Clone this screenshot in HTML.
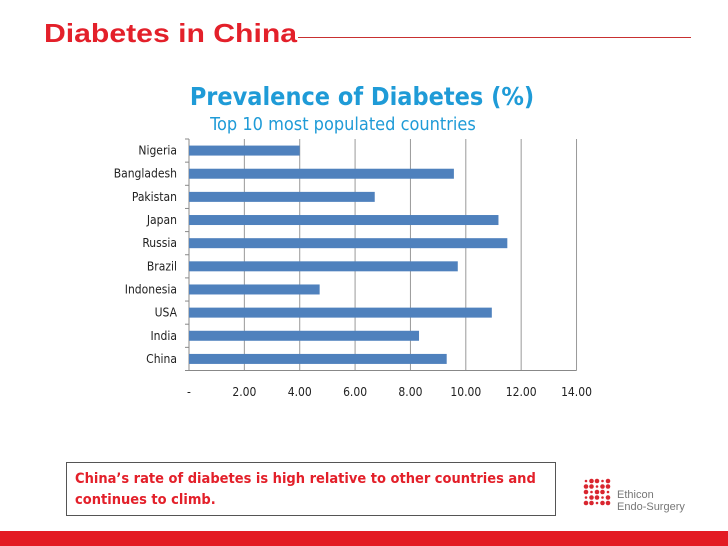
<!DOCTYPE html>
<html><head><meta charset="utf-8"><style>
body{margin:0;width:728px;height:546px;background:#fff;position:relative;overflow:hidden;font-family:"Liberation Sans",sans-serif}
.abs{position:absolute}
</style></head><body>
<div class="abs" style="left:44px;top:18px;font-size:26px;font-weight:bold;color:#e3202a;transform:scaleX(1.16);transform-origin:left top;white-space:nowrap">Diabetes in China</div>
<div class="abs" style="left:298px;top:37px;width:393px;height:1px;background:#c83030"></div>
<svg class="abs" style="left:0;top:0" width="728" height="546">
<text x="362" y="105" text-anchor="middle" font-size="25" font-weight="bold" fill="#1f9bd7" font-family="DejaVu Sans Condensed, DejaVu Sans, sans-serif">Prevalence of Diabetes (%)</text>
<text x="343" y="130" text-anchor="middle" font-size="18" fill="#1f9bd7" font-family="DejaVu Sans Condensed, DejaVu Sans, sans-serif">Top 10 most populated countries</text>
<g id="g"></g>
</svg>
<div class="abs" style="left:66px;top:462px;width:490px;height:54px;border:1px solid #555;box-sizing:border-box;padding:6px 8px;color:#e3202a;font-weight:bold;font-size:14.5px;line-height:21px;font-family:'DejaVu Sans Condensed','Liberation Sans',sans-serif">China’s rate of diabetes is high relative to other countries and continues to climb.</div>
<svg class="abs" style="left:583px;top:478px" width="30" height="30">
<g fill="#d9262f" id="dots"></g></svg>
<div class="abs" style="left:617px;top:489px;font-size:11px;line-height:12px;color:#777">Ethicon<br>Endo-Surgery</div>
<div class="abs" style="left:0;top:531px;width:728px;height:15px;background:#e31b23"></div>
<script>
const categories=["Nigeria","Bangladesh","Pakistan","Japan","Russia","Brazil","Indonesia","USA","India","China"];
const values=[4.0,9.57,6.71,11.18,11.5,9.71,4.72,10.94,8.31,9.31];
const ticks=[0,2,4,6,8,10,12,14];
const tickLabels=["-","2.00","4.00","6.00","8.00","10.00","12.00","14.00"];
const NS="http://www.w3.org/2000/svg";
const g=document.getElementById('g');
const x0=189,xs=27.68,plotTop=139,band=23.15;
const X=v=>x0+v*xs, Y=i=>plotTop+i*band;
function mk(t,a){const e=document.createElementNS(NS,t);for(const k in a)e.setAttribute(k,a[k]);g.appendChild(e);return e;}
ticks.forEach((t,i)=>{
 const l=mk('line',{x1:X(t),x2:X(t),y1:plotTop,y2:plotTop+10*band,stroke:i?'#999':'#888','stroke-width':1});
 
 
 const tx=mk('text',{x:X(t),y:396,'text-anchor':'middle','font-size':12,fill:'#222','font-family':'DejaVu Sans Condensed, DejaVu Sans, sans-serif'});
 tx.textContent=tickLabels[i];
 
 
});
mk('line',{x1:X(0)-4,x2:X(14),y1:plotTop+10*band,y2:plotTop+10*band,stroke:'#888'});
for(let i=0;i<=10;i++)mk('line',{x1:X(0)-4,x2:X(0),y1:Y(i),y2:Y(i),stroke:'#888'});
categories.forEach((c,i)=>{
 const cy=Y(i)+band/2;
 const r=mk('rect',{x:X(0),y:cy-5,width:X(values[i])-X(0),height:10,fill:'#4f81bd'});
 
 
 const t=mk('text',{x:177,y:cy+4,'text-anchor':'end','font-size':12,fill:'#222','font-family':'DejaVu Sans Condensed, DejaVu Sans, sans-serif'});
 t.textContent=c;
 
 
});
const d=document.getElementById('dots');
for(let r=0;r<5;r++)for(let c=0;c<5;c++){const e=document.createElementNS(NS,'circle');e.setAttribute('cx',3+c*5.5);e.setAttribute('cy',3+r*5.5);e.setAttribute('r',(r+c)%3?2.3:1.3);d.appendChild(e);}
</script>
</body></html>
